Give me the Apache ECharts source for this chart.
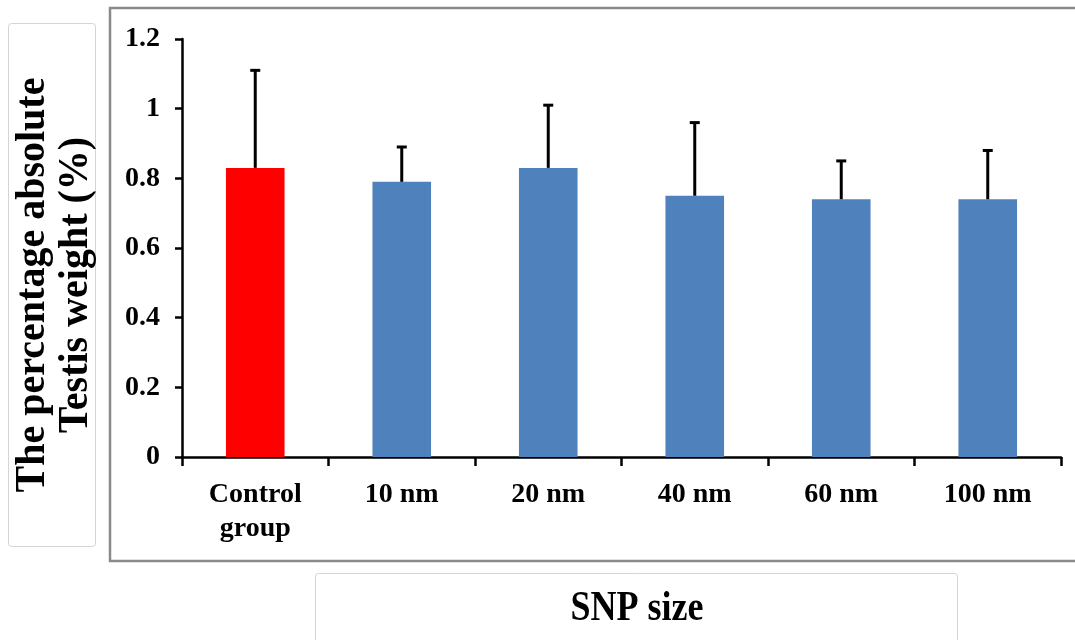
<!DOCTYPE html>
<html>
<head>
<meta charset="utf-8">
<script src="https://cdn.jsdelivr.net/npm/echarts@6/dist/echarts.min.js"></script>
<style>
html,body{margin:0;padding:0;background:#fff;}
#chart{width:1075px;height:640px;}
</style>
</head>
<body>
<div id="chart"></div>
<script>
var categories = ['Control\ngroup', '10 nm', '20 nm', '40 nm', '60 nm', '100 nm'];
var values = [0.83, 0.79, 0.83, 0.75, 0.74, 0.74];
var errorTops = [1.11, 0.89, 1.01, 0.96, 0.85, 0.88];
var barColors = ['#FF0000', '#4F81BD', '#4F81BD', '#4F81BD', '#4F81BD', '#4F81BD'];
var yTicks = { min: 0, max: 1.2, interval: 0.2 };
var yTitle = 'The percentage absolute\nTestis weight (%)';
var xTitle = 'SNP size';

var FONT = '"Liberation Serif", "Times New Roman", serif';
var chart = echarts.init(document.getElementById('chart'));

var barData = values.map(function (v, i) {
  return { value: v, itemStyle: { color: barColors[i] } };
});
var errData = values.map(function (v, i) { return [i, v, errorTops[i]]; });

chart.setOption({
  backgroundColor: '#ffffff',
  animation: false,
  grid: { left: 182, right: 14, top: 39, bottom: 183, containLabel: false },
  xAxis: {
    type: 'category',
    data: categories,
    axisLine: { show: true, lineStyle: { color: '#000', width: 2.5 } },
    axisTick: { show: true, inside: false, length: 9, alignWithLabel: false, lineStyle: { color: '#000', width: 2.5 } },
    axisLabel: { color: '#000', fontFamily: FONT, fontWeight: 'bold', fontSize: 28, lineHeight: 34, margin: 21, interval: 0 },
    splitLine: { show: false }
  },
  yAxis: {
    type: 'value',
    min: yTicks.min, max: yTicks.max, interval: yTicks.interval,
    axisLine: { show: true, lineStyle: { color: '#000', width: 2.5 } },
    axisTick: { show: true, inside: false, length: 7, lineStyle: { color: '#000', width: 2.5 } },
    axisLabel: { color: '#000', fontFamily: FONT, fontWeight: 'bold', fontSize: 28, margin: 22 },
    splitLine: { show: false }
  },
  graphic: [
    { type: 'rect', z: -1, shape: { x: 110, y: 8, width: 980, height: 553 }, style: { fill: 'none', stroke: '#8a8a8a', lineWidth: 2.5 } },
    { type: 'rect', z: -1, shape: { x: 8.5, y: 23.5, width: 87, height: 523, r: 3 }, style: { fill: '#fff', stroke: '#d4d4d4', lineWidth: 1 } },
    { type: 'rect', z: -1, shape: { x: 315.5, y: 573.5, width: 642, height: 80, r: 3 }, style: { fill: '#fff', stroke: '#d4d4d4', lineWidth: 1 } },
    { type: 'text', x: 55, y: 285, rotation: Math.PI / 2, scaleX: 1, scaleY: 1.05,
      style: { text: yTitle, font: 'bold 40px ' + FONT, fill: '#000', align: 'center', verticalAlign: 'middle', lineHeight: 41 } },
    { type: 'text', x: 637, y: 609, scaleY: 1.18,
      style: { text: xTitle, font: 'bold 36px ' + FONT, fill: '#000', align: 'center', verticalAlign: 'middle' } }
  ],
  series: [
    {
      type: 'bar',
      data: barData,
      barWidth: '40%',
      z: 2
    },
    {
      type: 'custom',
      z: 3,
      data: errData,
      encode: { x: 0, y: [1, 2] },
      renderItem: function (params, api) {
        var i = api.value(0);
        var base = api.coord([i, api.value(1)]);
        var top = api.coord([i, api.value(2)]);
        var half = 5;
        var st = { stroke: '#000', lineWidth: 3 };
        return {
          type: 'group',
          children: [
            { type: 'line', shape: { x1: base[0], y1: base[1], x2: top[0], y2: top[1] }, style: st },
            { type: 'line', shape: { x1: top[0] - half, y1: top[1], x2: top[0] + half, y2: top[1] }, style: st }
          ]
        };
      }
    }
  ]
});
</script>
</body>
</html>
